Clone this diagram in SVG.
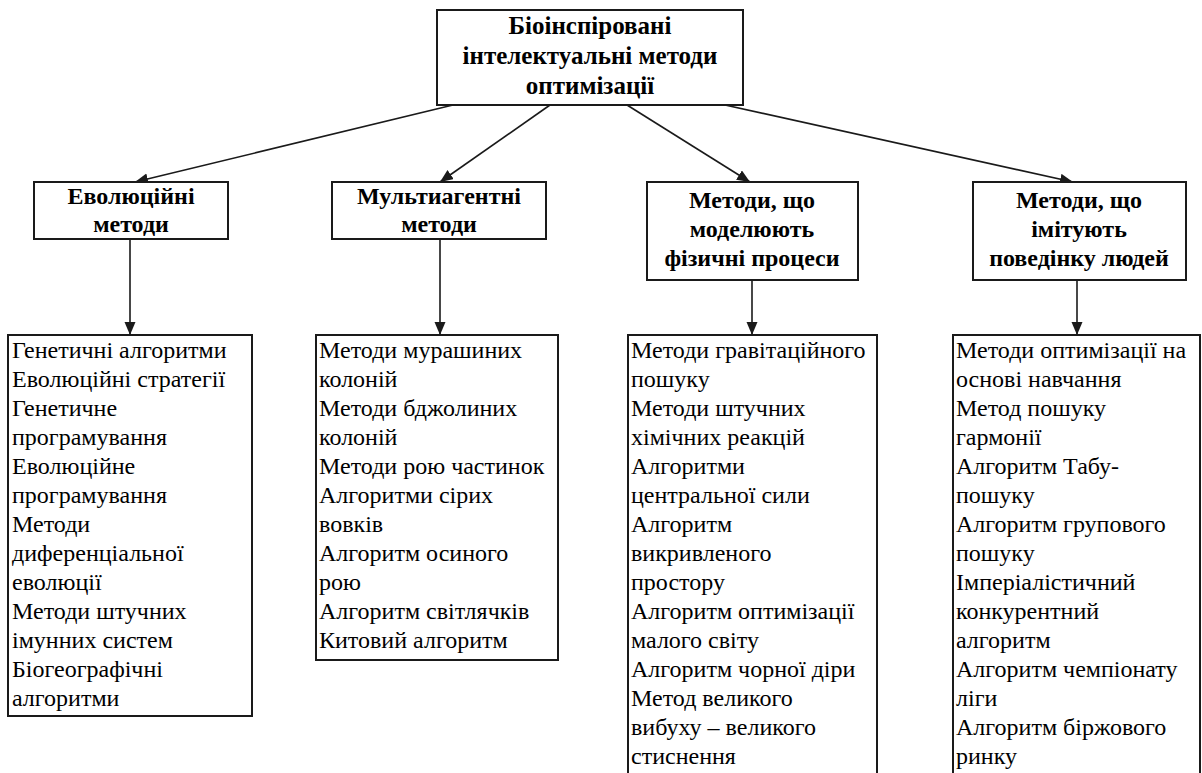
<svg xmlns="http://www.w3.org/2000/svg" width="1202" height="773" viewBox="0 0 1202 773">
<style>
svg text, svg g text, text{font-family:"Liberation Serif","Times New Roman",serif !important;fill:#000}
.box{fill:#fff;stroke:#1a1a1a;stroke-width:2}
.title{font-size:25px;font-weight:bold;text-anchor:middle}
.cat{font-size:24px;font-weight:bold;text-anchor:middle}
.item{font-size:24px}
.conn{stroke:#1a1a1a;stroke-width:1.6;fill:none;marker-end:url(#ah)}
</style>
<defs>
<marker id="ah" markerUnits="userSpaceOnUse" markerWidth="14" markerHeight="12" refX="13" refY="5.5" orient="auto">
<path d="M0,0 L13,5.5 L0,11 z" fill="#1a1a1a"/>
</marker>
</defs>
<rect width="1202" height="773" fill="#fff"/>
<g id="connectors">
<line class="conn" x1="453" y1="105" x2="135" y2="182"/>
<line class="conn" x1="550" y1="105" x2="440" y2="182"/>
<line class="conn" x1="627" y1="105" x2="750" y2="182"/>
<line class="conn" x1="725" y1="105" x2="1073" y2="182"/>
<line class="conn" x1="130" y1="239" x2="130" y2="335"/>
<line class="conn" x1="440" y1="239" x2="440" y2="335"/>
<line class="conn" x1="752" y1="280" x2="752" y2="335"/>
<line class="conn" x1="1077" y1="280" x2="1077" y2="335"/>
</g>
<g id="root">
<rect class="box" x="437" y="10" width="306" height="95"/>
<text class="title" font-family="Liberation Serif" x="590" y="34">Біоінспіровані</text>
<text class="title" font-family="Liberation Serif" x="590" y="64">інтелектуальні методи</text>
<text class="title" font-family="Liberation Serif" x="590" y="94">оптимізації</text>
</g>
<g id="cat1">
<rect class="box" x="34" y="182" width="194" height="57"/>
<text class="cat" font-family="Liberation Serif" x="131" y="204">Еволюційні</text>
<text class="cat" font-family="Liberation Serif" x="131" y="232">методи</text>
</g>
<g id="cat2">
<rect class="box" x="332" y="182" width="214" height="57"/>
<text class="cat" font-family="Liberation Serif" x="439" y="204">Мультиагентні</text>
<text class="cat" font-family="Liberation Serif" x="439" y="232">методи</text>
</g>
<g id="cat3">
<rect class="box" x="647" y="182" width="211" height="98"/>
<text class="cat" font-family="Liberation Serif" x="752" y="208">Методи, що</text>
<text class="cat" font-family="Liberation Serif" x="752" y="237">моделюють</text>
<text class="cat" font-family="Liberation Serif" x="752" y="266">фізичні процеси</text>
</g>
<g id="cat4">
<rect class="box" x="973" y="182" width="213" height="98"/>
<text class="cat" font-family="Liberation Serif" x="1079" y="208">Методи, що</text>
<text class="cat" font-family="Liberation Serif" x="1079" y="237">імітують</text>
<text class="cat" font-family="Liberation Serif" x="1079" y="266">поведінку людей</text>
</g>
<g id="list1">
<rect class="box" x="8" y="335" width="244" height="381"/>
<text class="item" font-family="Liberation Serif" x="12" y="358">Генетичні алгоритми</text>
<text class="item" font-family="Liberation Serif" x="12" y="387">Еволюційні стратегії</text>
<text class="item" font-family="Liberation Serif" x="12" y="416">Генетичне</text>
<text class="item" font-family="Liberation Serif" x="12" y="445">програмування</text>
<text class="item" font-family="Liberation Serif" x="12" y="474">Еволюційне</text>
<text class="item" font-family="Liberation Serif" x="12" y="503">програмування</text>
<text class="item" font-family="Liberation Serif" x="12" y="532">Методи</text>
<text class="item" font-family="Liberation Serif" x="12" y="561">диференціальної</text>
<text class="item" font-family="Liberation Serif" x="12" y="590">еволюції</text>
<text class="item" font-family="Liberation Serif" x="12" y="619">Методи штучних</text>
<text class="item" font-family="Liberation Serif" x="12" y="648">імунних систем</text>
<text class="item" font-family="Liberation Serif" x="12" y="677">Біогеографічні</text>
<text class="item" font-family="Liberation Serif" x="12" y="706">алгоритми</text>
</g>
<g id="list2">
<rect class="box" x="316" y="335" width="242" height="325"/>
<text class="item" font-family="Liberation Serif" x="319" y="358">Методи мурашиних</text>
<text class="item" font-family="Liberation Serif" x="319" y="387">колоній</text>
<text class="item" font-family="Liberation Serif" x="319" y="416">Методи бджолиних</text>
<text class="item" font-family="Liberation Serif" x="319" y="445">колоній</text>
<text class="item" font-family="Liberation Serif" x="319" y="474">Методи рою частинок</text>
<text class="item" font-family="Liberation Serif" x="319" y="503">Алгоритми сірих</text>
<text class="item" font-family="Liberation Serif" x="319" y="532">вовків</text>
<text class="item" font-family="Liberation Serif" x="319" y="561">Алгоритм осиного</text>
<text class="item" font-family="Liberation Serif" x="319" y="590">рою</text>
<text class="item" font-family="Liberation Serif" x="319" y="619">Алгоритм світлячків</text>
<text class="item" font-family="Liberation Serif" x="319" y="648">Китовий алгоритм</text>
</g>
<g id="list3">
<path class="box" d="M628,780 L628,335 L877,335 L877,780"/>
<text class="item" font-family="Liberation Serif" x="631" y="358">Методи гравітаційного</text>
<text class="item" font-family="Liberation Serif" x="631" y="387">пошуку</text>
<text class="item" font-family="Liberation Serif" x="631" y="416">Методи штучних</text>
<text class="item" font-family="Liberation Serif" x="631" y="445">хімічних реакцій</text>
<text class="item" font-family="Liberation Serif" x="631" y="474">Алгоритми</text>
<text class="item" font-family="Liberation Serif" x="631" y="503">центральної сили</text>
<text class="item" font-family="Liberation Serif" x="631" y="532">Алгоритм</text>
<text class="item" font-family="Liberation Serif" x="631" y="561">викривленого</text>
<text class="item" font-family="Liberation Serif" x="631" y="590">простору</text>
<text class="item" font-family="Liberation Serif" x="631" y="619">Алгоритм оптимізації</text>
<text class="item" font-family="Liberation Serif" x="631" y="648">малого світу</text>
<text class="item" font-family="Liberation Serif" x="631" y="677">Алгоритм чорної діри</text>
<text class="item" font-family="Liberation Serif" x="631" y="706">Метод великого</text>
<text class="item" font-family="Liberation Serif" x="631" y="735">вибуху – великого</text>
<text class="item" font-family="Liberation Serif" x="631" y="764">стиснення</text>
</g>
<g id="list4">
<path class="box" d="M953,780 L953,335 L1200,335 L1200,780"/>
<text class="item" font-family="Liberation Serif" x="956" y="358">Методи оптимізації на</text>
<text class="item" font-family="Liberation Serif" x="956" y="387">основі навчання</text>
<text class="item" font-family="Liberation Serif" x="956" y="416">Метод пошуку</text>
<text class="item" font-family="Liberation Serif" x="956" y="445">гармонії</text>
<text class="item" font-family="Liberation Serif" x="956" y="474">Алгоритм Табу-</text>
<text class="item" font-family="Liberation Serif" x="956" y="503">пошуку</text>
<text class="item" font-family="Liberation Serif" x="956" y="532">Алгоритм групового</text>
<text class="item" font-family="Liberation Serif" x="956" y="561">пошуку</text>
<text class="item" font-family="Liberation Serif" x="956" y="590">Імперіалістичний</text>
<text class="item" font-family="Liberation Serif" x="956" y="619">конкурентний</text>
<text class="item" font-family="Liberation Serif" x="956" y="648">алгоритм</text>
<text class="item" font-family="Liberation Serif" x="956" y="677">Алгоритм чемпіонату</text>
<text class="item" font-family="Liberation Serif" x="956" y="706">ліги</text>
<text class="item" font-family="Liberation Serif" x="956" y="735">Алгоритм біржового</text>
<text class="item" font-family="Liberation Serif" x="956" y="764">ринку</text>
</g>
</svg>
